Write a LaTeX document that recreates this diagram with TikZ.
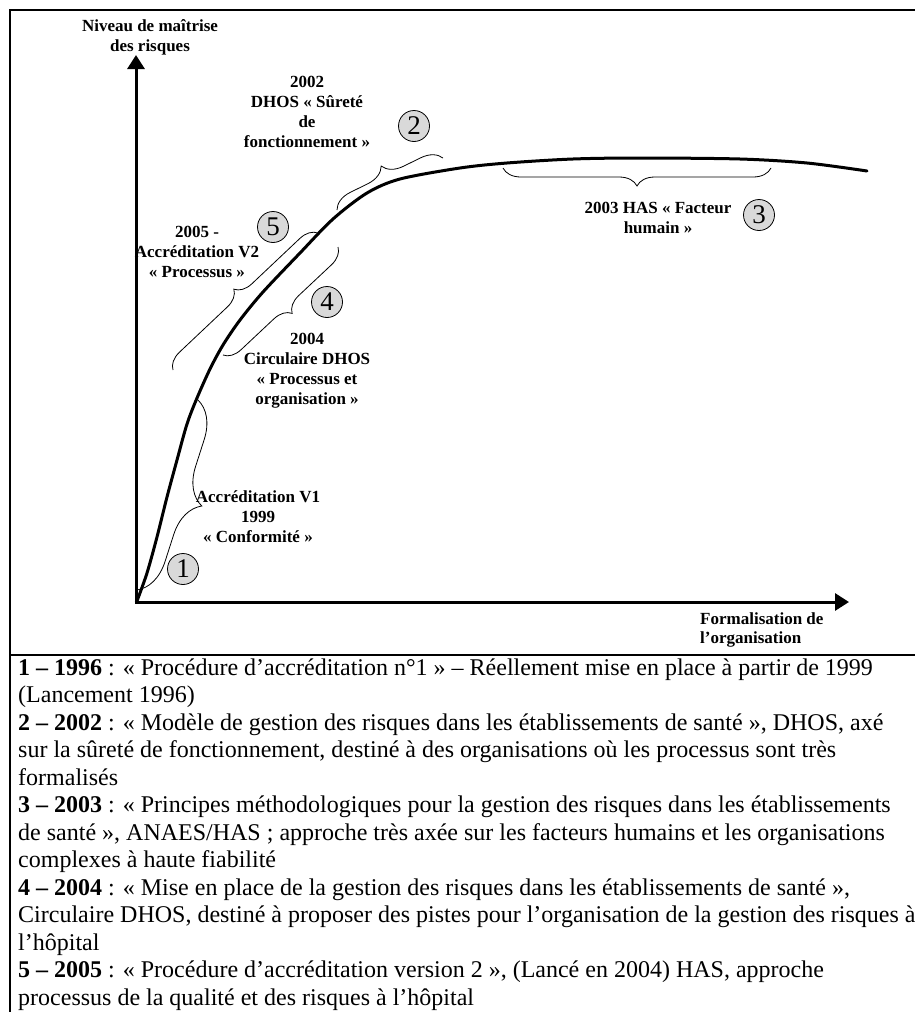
\documentclass[tikz,border=0pt]{standalone}
\usepackage{fontspec}
\setmainfont{Liberation Serif}
\usetikzlibrary{arrows.meta,decorations.pathreplacing}
\definecolor{numgray}{RGB}{217,217,217}
\begin{document}
\begin{tikzpicture}[x=1pt,y=-1pt,
  lab/.style={font=\fontsize{17}{20}\selectfont\bfseries, align=center, inner sep=0pt, anchor=base},
  num/.style={circle, draw, line width=0.8pt, fill=numgray, minimum size=31pt, inner sep=0pt, font=\fontsize{27}{27}\selectfont},
  brc/.style={decorate, decoration={brace, amplitude=#1}, line width=0.8pt},
  txt/.style={anchor=base west, inner sep=0pt, font=\fontsize{24}{27.5}\selectfont},
  axis/.style={line width=3pt, -{Triangle[width=17pt,length=14pt]}},
  frame/.style={line width=2pt},
]
\useasboundingbox (0,0) rectangle (915,1012);
\fill[white] (0,0) rectangle (915,1012);
% frame
\draw[frame] (10,1012) -- (10,10) -- (915,10);
\draw[frame] (10,655) -- (915,655);
% axes
\coordinate (O) at (136,602);
\coordinate (ytop) at (136,55);
\coordinate (xend) at (849,602);
\draw[axis] (O) -- (ytop);
\draw[axis] ([xshift=-1.5pt]O) -- (xend);
% curve
\draw[line width=3pt, line cap=round] plot[smooth, tension=0.5] coordinates {(137,601) (147,573) (157,537) (167,497) (177,460) (187,424) (197,398) (210,369) (223,345) (240,320) (263,292) (300,253) (333,219) (367,193) (400,179) (460,168) (507,163) (573,159) (640,158) (740,159) (807,163) (867,171)};
% braces
\draw[brc=18] (771,168) -- (503,168);
\draw[brc=20] (337,210) -- (443,158);
\draw[brc=17] (173,370) -- (318,233);
\draw[brc=17] (338,247) -- (223,355);
\draw[brc=36] (198,400) -- (137,590);
% numbered circles
\node[num] (n1) at (183,569) {1};
\node[num] (n2) at (414,126) {2};
\node[num] (n3) at (759,215) {3};
\node[num] (n4) at (327,302) {4};
\node[num] (n5) at (273,227) {5};
% labels (base = baseline of the last line)
\node[lab] (ylab) at (150,51) {Niveau de maîtrise\\des risques};
\node[lab, align=left, anchor=base west, font=\fontsize{17}{19}\selectfont\bfseries] (xlab) at (700,643) {Formalisation de\\l’organisation};
\node[lab] (l2) at (307,147) {2002\\DHOS « Sûreté\\de\\fonctionnement »};
\node[lab] (l5) at (197,277) {2005 -\\Accréditation V2\\« Processus »};
\node[lab] (l4) at (307,404) {2004\\Circulaire DHOS\\« Processus et\\organisation »};
\node[lab] (l1) at (258,542) {Accréditation V1\\1999\\« Conformité »};
\node[lab] (l3) at (658,233) {2003 HAS « Facteur\\humain »};
% legend text
\node[txt] (t1) at (18,675) {\textbf{1 – 1996} : « Procédure d’accréditation n°1 » – Réellement mise en place à partir de 1999};
\node[txt] (t2) at (18,702.5) {(Lancement 1996)};
\node[txt] (t3) at (18,730) {\textbf{2 – 2002} : « Modèle de gestion des risques dans les établissements de santé », DHOS, axé};
\node[txt] (t4) at (18,757.5) {sur la sûreté de fonctionnement, destiné à des organisations où les processus sont très};
\node[txt] (t5) at (18,785) {formalisés};
\node[txt] (t6) at (18,812.5) {\textbf{3 – 2003} : « Principes méthodologiques pour la gestion des risques dans les établissements};
\node[txt] (t7) at (18,840) {de santé », ANAES/HAS ; approche très axée sur les facteurs humains et les organisations};
\node[txt] (t8) at (18,867.5) {complexes à haute fiabilité};
\node[txt] (t9) at (18,895) {\textbf{4 – 2004} : « Mise en place de la gestion des risques dans les établissements de santé »,};
\node[txt] (t10) at (18,922.5) {Circulaire DHOS, destiné à proposer des pistes pour l’organisation de la gestion des risques à};
\node[txt] (t11) at (18,950) {l’hôpital};
\node[txt] (t12) at (18,977.5) {\textbf{5 – 2005} : « Procédure d’accréditation version 2 », (Lancé en 2004) HAS, approche};
\node[txt] (t13) at (18,1005) {processus de la qualité et des risques à l’hôpital};
\end{tikzpicture}
\end{document}
